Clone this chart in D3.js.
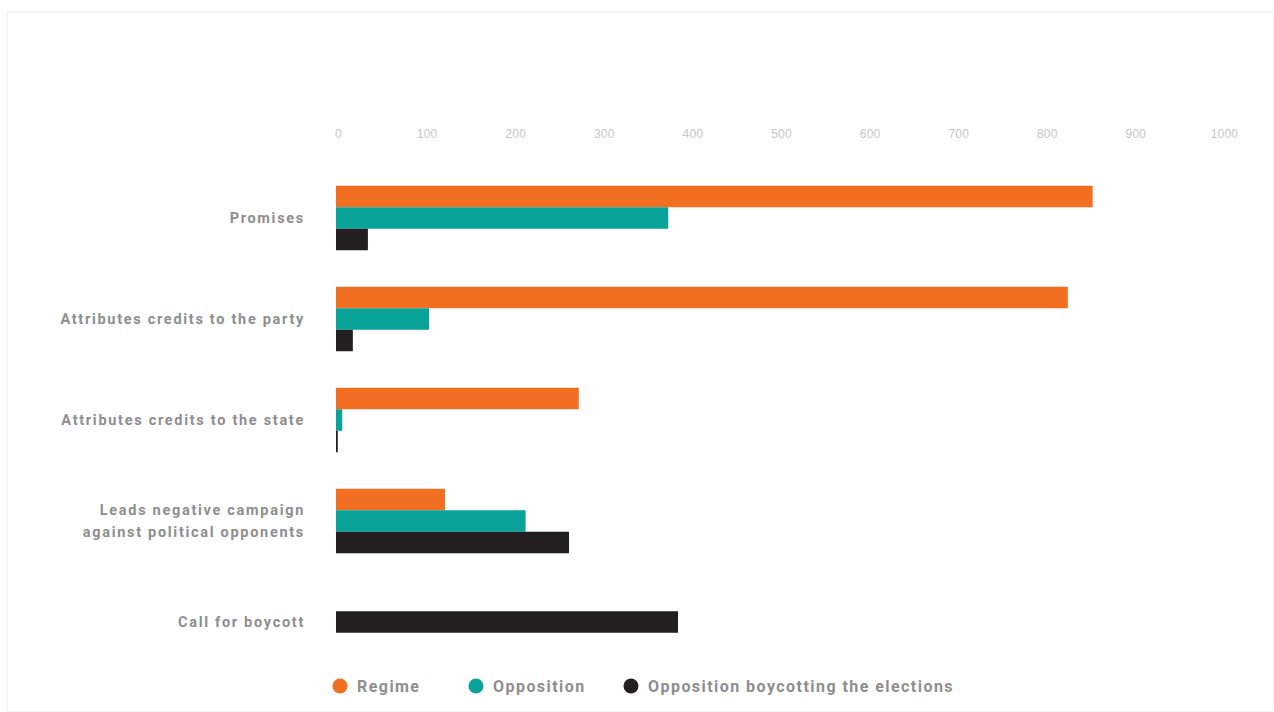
<!DOCTYPE html>
<html>
<head>
<meta charset="utf-8">
<script src="https://cdn.jsdelivr.net/npm/d3@7"></script>
<style>
  html, body { margin: 0; padding: 0; background: #fff; }
  svg { display: block; font-family: "Roboto", "DejaVu Sans", sans-serif; }
</style>
</head>
<body>
<svg id="chart" width="1274" height="712"></svg>
<script>
// Message categories shown on the vertical axis
const categories = [
  ["Promises"],
  ["Attributes credits to the party"],
  ["Attributes credits to the state"],
  ["Leads negative campaign", "against political opponents"],
  ["Call for boycott"]
];
const seriesNames = ["Regime", "Opposition", "Opposition boycotting the elections"];
const seriesColors = ["#f26f22", "#0aa39a", "#231f20"];

// Counts per category (null = series not present for that category)
const regime     = [854, 826, 274, 123, null];
const opposition = [375, 105, 7, 214, null];
const boycotting = [36, 19, 2, 263, 386];

const xTicks = [0, 100, 200, 300, 400, 500, 600, 700, 800, 900, 1000];

const svg = d3.select("#chart");
const W = 1274, H = 712;

// faint card frame
svg.append("rect").attr("x", 7).attr("y", 12).attr("width", W - 7).attr("height", H - 12)
  .attr("fill", "#fff").attr("stroke", "#f6f6f6").attr("stroke-width", 2);

const x = d3.scaleLinear().domain([0, 1000]).range([336, 1222]);
const y = d3.scalePoint().domain(d3.range(categories.length)).range([218, 622]);
const barH = 21.5;

// top axis tick labels
const axis = d3.axisTop(x).tickValues(xTicks).tickFormat(d3.format("d")).tickSize(0).tickPadding(0);
const gAxis = svg.append("g").attr("transform", "translate(0,134)").call(axis);
gAxis.select(".domain").remove();
gAxis.selectAll("text")
  .attr("fill", "#c6c6c6")
  .attr("font-size", 12)
  .attr("dy", "0.35em")
  .attr("dx", 2)
  .attr("letter-spacing", "0.2px");

const values = [regime, opposition, boycotting];
const bars = [];
categories.forEach((c, i) => {
  const present = values.map((v, s) => ({ s, v: v[i] })).filter(d => d.v !== null);
  const n = present.length;
  present.forEach((d, k) => {
    bars.push({ cat: i, series: d.s, value: d.v, y0: y(i) - n * barH / 2 + k * barH });
  });
});

svg.append("g").selectAll("rect").data(bars).join("rect")
  .attr("x", x(0))
  .attr("y", d => d.y0)
  .attr("width", d => x(d.value) - x(0))
  .attr("height", barH)
  .attr("fill", d => seriesColors[d.series]);

// category labels
const gLab = svg.append("g");
categories.forEach((lines, i) => {
  const t = gLab.append("text")
    .attr("x", 305)
    .attr("text-anchor", "end")
    .attr("fill", "#8e8e8e")
    .attr("font-size", 14.5)
    .attr("font-weight", 700)
    .attr("letter-spacing", "1.7px");
  const lh = 22;
  lines.forEach((l, j) => {
    t.append("tspan").attr("x", 305)
      .attr("y", y(i) + (j - (lines.length - 1) / 2) * lh)
      .attr("dy", "0.35em")
      .text(l);
  });
});

// legend
const legendX = [340, 476, 631];
const lg = svg.append("g").selectAll("g").data(seriesNames).join("g")
  .attr("transform", (d, i) => `translate(${legendX[i]},686)`);
lg.append("circle").attr("r", 7.5).attr("fill", (d, i) => seriesColors[i]);
lg.append("text").attr("x", 17).attr("dy", "0.35em")
  .attr("fill", "#8e8e8e").attr("font-size", 16).attr("font-weight", 700)
  .attr("letter-spacing", "1.45px")
  .text(d => d);
</script>
</body>
</html>
